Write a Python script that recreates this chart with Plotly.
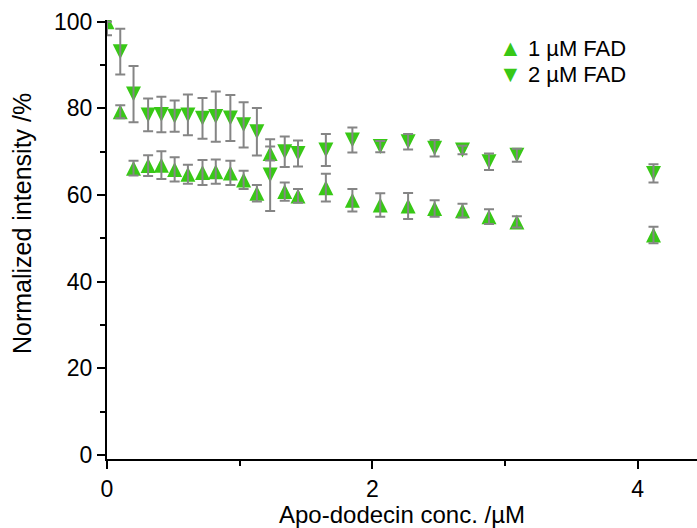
import plotly.graph_objects as go

conc = [0, 0.10, 0.20, 0.31, 0.41, 0.51, 0.61, 0.72, 0.82, 0.93, 1.03, 1.13,
        1.23, 1.34, 1.44, 1.65, 1.85, 2.06, 2.27, 2.47, 2.68, 2.88, 3.09, 4.12]

fad1 = [100, 79.2, 66.2, 66.8, 66.9, 65.9, 64.8, 65.2, 65.4, 65.1, 63.5, 60.4,
        69.6, 60.8, 59.8, 61.7, 58.8, 57.7, 57.5, 56.9, 56.4, 55.0, 53.8, 50.8]
fad1_err = [0, 1.5, 1.7, 2.4, 3.2, 2.8, 2.2, 2.9, 2.8, 2.8, 2.1, 1.9,
            1.6, 2.1, 1.6, 3.2, 2.6, 2.7, 3.0, 1.9, 1.6, 1.7, 1.3, 1.9]

fad2 = [100, 93.1, 83.3, 78.5, 78.6, 78.2, 78.5, 77.7, 78.1, 77.8, 76.2, 74.6,
        64.6, 70.0, 69.6, 70.4, 72.7, 71.2, 72.3, 70.8, 70.4, 67.7, 69.2, 65.0]
fad2_err = [3.1, 5.3, 6.5, 3.8, 4.1, 3.6, 4.7, 4.7, 5.8, 5.3, 5.2, 5.5,
            8.3, 3.5, 3.0, 3.7, 2.9, 1.3, 1.8, 1.9, 1.0, 1.9, 1.5, 2.1]

names = ["1 µM FAD", "2 µM FAD"]
x_title = "Apo-dodecin conc. /µM"
y_title = "Normalized intensity /%"

GREEN = "#38c816"
GRAY = "#858585"
FONT = "Liberation Sans, Arial, sans-serif"
MS = 15

# plot-area geometry (px)
L, T, W, H = 107, 20, 590, 439

fig = go.Figure()

# arrow-down rotated 180 = up-pointing triangle; standoff centres it on the point
series = [(fad1, fad1_err, 180, names[0]),
          (fad2, fad2_err, 0, names[1])]

for ys, es, ang, nm in series:
    fig.add_trace(go.Scatter(
        x=conc, y=ys, mode="markers", showlegend=False, name=nm,
        marker=dict(symbol="arrow-down", size=MS, angle=ang, standoff=MS / 2,
                    color=GREEN, line=dict(width=0)),
    ))

# error bars drawn on top of markers
for ys, es, ang, nm in series:
    fig.add_trace(go.Scatter(
        x=conc, y=ys, mode="markers", showlegend=False, hoverinfo="skip",
        marker=dict(size=1, opacity=0),
        error_y=dict(type="data", array=es, visible=True, color=GRAY,
                     thickness=2, width=5),
    ))

axis_common = dict(
    showline=True, linecolor="black", linewidth=2, mirror=False,
    ticks="outside", ticklen=8, tickwidth=2, tickcolor="black",
    showgrid=False, zeroline=False,
    tickfont=dict(family=FONT, size=23, color="black"),
)

fig.update_xaxes(
    range=[0, 4.448], dtick=2, tick0=0,
    minor=dict(ticks="outside", ticklen=5, tickwidth=2, tickcolor="black", dtick=1),
    title=dict(text=x_title, font=dict(family=FONT, size=24, color="black"),
               standoff=4),
    **axis_common,
)
fig.update_yaxes(
    range=[-0.92, 100.4], dtick=20, tick0=0,
    minor=dict(ticks="outside", ticklen=5, tickwidth=2, tickcolor="black", dtick=10),
    **axis_common,
)

# y-axis title (placed as rotated text, slightly above the plot centre as in the reference)
fig.add_annotation(
    xref="paper", yref="paper", x=(22 - L) / W, y=1 - (224 - T) / H,
    xanchor="center", yanchor="middle", showarrow=False, textangle=-90,
    text=y_title, font=dict(family=FONT, size=25, color="black"),
)

# legend entries
legend_rows = [("▲", names[0], 48), ("▼", names[1], 74)]
for sym, nm, ypx in legend_rows:
    fig.add_annotation(
        xref="paper", yref="paper", x=(497 - L) / W, y=1 - (ypx - T) / H,
        xanchor="left", yanchor="middle", showarrow=False,
        text=f'<span style="color:{GREEN};font-size:23px">{sym}</span> {nm}',
        font=dict(family=FONT, size=22, color="black"),
    )

fig.update_layout(
    width=697, height=528,
    margin=dict(l=L, r=697 - L - W, t=T, b=528 - T - H),
    plot_bgcolor="white", paper_bgcolor="white",
    font=dict(family=FONT, size=23, color="black"),
    showlegend=False,
)

fig.write_html("out.html")
